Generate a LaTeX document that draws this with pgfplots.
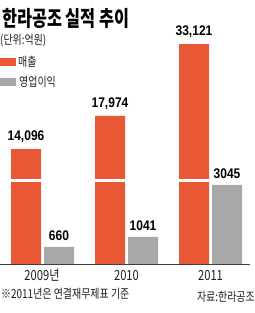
\documentclass[border=0pt]{standalone}
\usepackage{pgfplots}
\pgfplotsset{compat=1.18}
\usepackage{fontspec}
\setmainfont{Liberation Sans}
\newfontfamily\kr[FakeStretch=0.8]{Noto Sans CJK KR}
\newfontfamily\krb[FakeStretch=0.76]{Noto Sans CJK KR}
\newfontfamily\numf[FakeStretch=0.86]{Liberation Sans}
\definecolor{orng}{RGB}{233,88,52}
\definecolor{gry}{RGB}{168,168,168}
\definecolor{txt}{RGB}{30,30,30}
\begin{document}
\begin{tikzpicture}[x=1bp,y=1bp]
\useasboundingbox (0,-49) rectangle (255,264);
\begin{axis}[
  at={(0,0)}, anchor=south west,
  scale only axis, width=252bp, height=220bp,
  xmin=-0.506, xmax=2.494, ymin=0, ymax=33121,
  hide axis, clip=false,
  y coord trafo/.code={\begingroup\pgfkeys{/pgf/fpu=true,/pgf/fpu/output format=fixed}%
    \pgfmathparse{(#1<=3230) ? (#1/38.45) : ((#1<=14096) ? (84+(#1-3230)*31/10866) : ((#1<=17974) ? (115+(#1-14096)*33/3878) : (148+(#1-17974)*72/15147)))}%
    \pgfmathsmuggle\pgfmathresult\endgroup},
  ybar, bar width=30bp,
  point meta=rawy,
  nodes near coords,
  every node near coord/.append style={font=\numf\bfseries\fontsize{14}{14}\selectfont, text=black, anchor=south, inner sep=0pt, yshift=6bp},
]
\addplot[fill=orng, draw=none, bar shift=-16.5bp,
  nodes near coords={\pgfmathprintnumber[fixed,precision=0,1000 sep={,},assume math mode=true]{\pgfplotspointmeta}}]
  coordinates {(0,14096) (1,17974) (2,33121)};
\addplot[fill=gry, draw=none, bar shift=16.5bp,
  nodes near coords={\pgfmathprintnumber[fixed,precision=0,1000 sep={},assume math mode=true]{\pgfplotspointmeta}}]
  coordinates {(0,660) (1,1041) (2,3045)};
\end{axis}
% axis break
\draw[white, line width=3bp] (0,84) -- (252,84);
% baseline
\draw[black!75, line width=0.7bp] (0,0) -- (250,0);
% title and legend
\node[anchor=west, inner sep=0pt, text=black] at (2,245.5) {\krb\bfseries\fontsize{21.5}{21.5}\selectfont 한라공조 실적 추이};
\node[anchor=west, inner sep=0pt, text=txt] at (0,223.5) {\kr\fontsize{12.5}{12.5}\selectfont (단위:억원)};
\fill[orng] (0,198) rectangle (16,206);
\node[anchor=west, inner sep=0pt, text=txt] at (18,202) {\kr\fontsize{12.5}{12.5}\selectfont 매출};
\fill[gry] (0,178) rectangle (16,186);
\node[anchor=west, inner sep=0pt, text=txt] at (19,182) {\kr\fontsize{12.5}{12.5}\selectfont 영업이익};
% category labels
\node[inner sep=0pt, text=txt] at (42,-11.5) {\kr\fontsize{14}{14}\selectfont 2009년};
\node[inner sep=0pt, text=txt] at (126.5,-11.5) {\kr\fontsize{14}{14}\selectfont 2010};
\node[inner sep=0pt, text=txt] at (210.5,-11.5) {\kr\fontsize{14}{14}\selectfont 2011};
% notes
\node[anchor=west, inner sep=0pt, text=txt] at (1,-30) {\kr\fontsize{12.5}{12.5}\selectfont ※2011년은 연결재무제표 기준};
\node[anchor=east, inner sep=0pt, text=txt] at (255,-33) {\kr\fontsize{12.5}{12.5}\selectfont 자료:한라공조};
\end{tikzpicture}
\end{document}
